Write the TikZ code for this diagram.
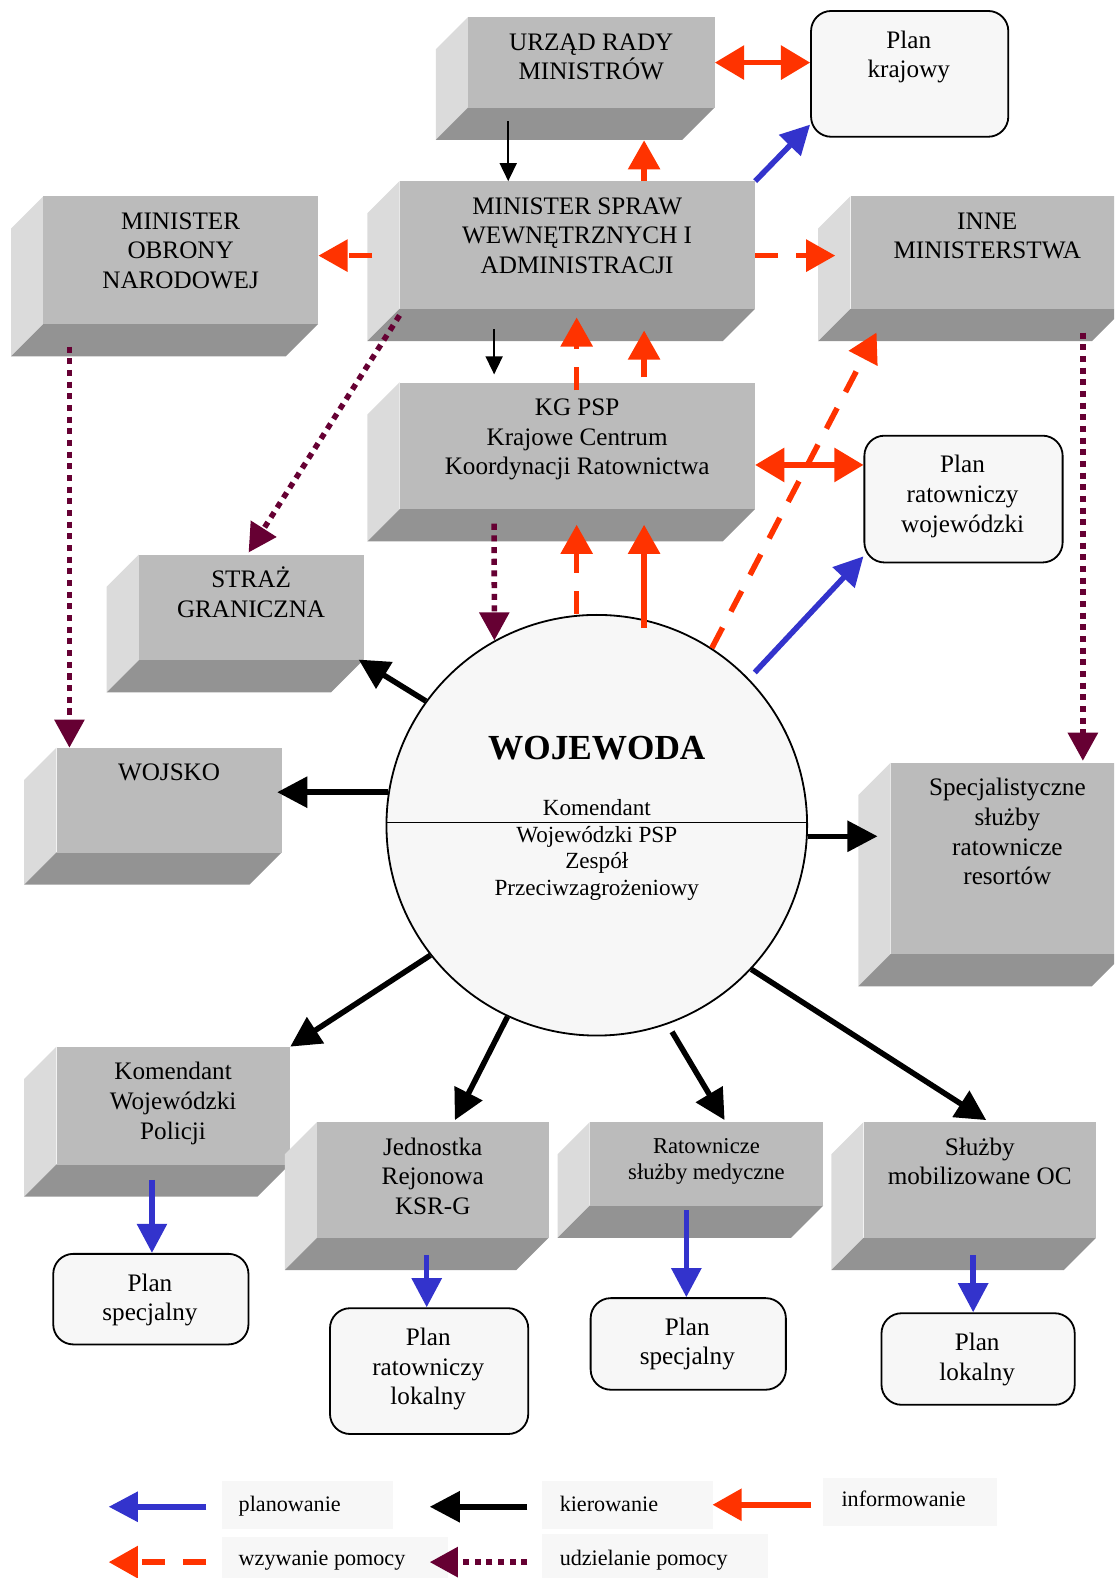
\documentclass[tikz,border=0pt]{standalone}
\usepackage{fontspec}
\setmainfont{Liberation Serif}
\usetikzlibrary{arrows.meta,calc}

\definecolor{frontgray}{HTML}{BBBBBB}
\definecolor{sidegray}{HTML}{DBDBDB}
\definecolor{basegray}{HTML}{939393}
\definecolor{paper}{HTML}{F7F7F7}
\definecolor{infored}{HTML}{FF3300}
\definecolor{planblue}{HTML}{3333CC}
\definecolor{aidmaroon}{HTML}{660033}

\tikzset{
  slabfront/.style={fill=frontgray, draw=none, inner sep=0pt, anchor=north west},
  slabtext/.style={font=\fontsize{25}{29.5}\selectfont, align=center, inner sep=0pt, anchor=north},
  planbox/.style={draw, line width=1.8pt, rounded corners=20pt, fill=paper, inner sep=0pt, anchor=north west},
  circtext/.style={font=\fontsize{23}{26.5}\selectfont, align=center, inner sep=0pt, anchor=north},
  legbox/.style={fill=paper, inner sep=0pt, anchor=north west},
  legtext/.style={font=\fontsize{22}{26}\selectfont, inner sep=0pt, anchor=base west},
  planarrow/.style={draw=planblue, line width=5.5pt, arrows={-Triangle[length=29pt,width=29pt]}},
  leadarrow/.style={draw=black, line width=5.5pt, arrows={-Triangle[length=30pt,width=30pt]}},
  thinlead/.style={draw=black, line width=1.6pt, arrows={-Triangle[length=18pt,width=17pt]}},
  infoarrow/.style={draw=infored, line width=5.5pt, arrows={-Triangle[length=29pt,width=31pt]}},
  infoboth/.style={draw=infored, line width=5.5pt, arrows={Triangle[length=29pt,width=33pt]-Triangle[length=29pt,width=33pt]}},
  callarrow/.style={draw=infored, line width=5.5pt, dash pattern=on 23pt off 18pt, arrows={-Triangle[length=29pt,width=31pt]}},
  aidarrow/.style={draw=aidmaroon, line width=5.5pt, dash pattern=on 6pt off 5.6pt, arrows={-Triangle[length=28pt,width=29pt]}},
}

% a grey block: front face plus a lighter left side and a darker base
% [#1] label options, #2 name, #3,#4 front top-left, #5,#6 front bottom-right, #7 label
\newcommand\slab[7][]{%
  \fill[sidegray] (#3,#4) -- ++(-32,32) -- (#3-32,#6+32) -- (#3,#6) -- cycle;
  \fill[basegray] (#3,#6) -- (#5,#6) -- (#5-32,#6+32) -- (#3-32,#6+32) -- cycle;
  \node[slabfront, minimum width={#5-#3}, minimum height={#6-#4}] (#2) at (#3,#4) {};
  \node[slabtext,#1] (#2-label) at ({(#3+#5)/2},#4+12) {\vphantom{Ż}#7};
}
% a rounded plan box: #1 name, #2,#3 top-left, #4,#5 bottom-right, #6 label
\newcommand\planrect[6]{%
  \node[planbox, minimum width={#4-#2}, minimum height={#5-#3}] (#1) at (#2,#3) {};
  \node[slabtext] (#1-label) at ({(#2+#4)/2},#3+17) {\vphantom{Ż}#6};
}

\begin{document}
\begin{tikzpicture}[x=1pt,y=-1pt]
\useasboundingbox (0,0) rectangle (1107,1568);
\clip (0,0) rectangle (1107,1568);

% ministries and services
\slab{urzad}{465}{17}{710}{107}{URZĄD RADY\\MINISTRÓW}
\slab{mswia}{397}{180}{750}{307}{MINISTER SPRAW\\WEWNĘTRZNYCH I\\ADMINISTRACJI}
\slab{mon}{43}{195}{316}{322}{MINISTER\\OBRONY\\NARODOWEJ}
\slab{inne}{845}{195}{1117}{307}{INNE\\MINISTERSTWA}
\slab{kg}{397}{380}{750}{506}{KG PSP\\Krajowe Centrum\\Koordynacji Ratownictwa}
\slab{straz}{138}{551}{361}{656}{STRAŻ\\GRANICZNA}
\slab{wojsko}{56}{743}{280}{847}{WOJSKO}
\slab{spec}{885}{758}{1117}{948}{Specjalistyczne\\służby\\ratownicze\\resortów}
\slab{kwp}{56}{1040}{288}{1157}{Komendant\\Wojewódzki\\Policji}
\slab{jr}{315}{1115}{545}{1230}{Jednostka\\Rejonowa\\KSR-G}
\slab[font=\fontsize{22.5}{26}\selectfont]{rsm}{586}{1115}{818}{1198}{Ratownicze\\służby medyczne}
\slab{oc}{858}{1115}{1089}{1230}{Służby\\mobilizowane OC}

% plans
\planrect{pkraj}{805}{10}{1001}{135}{Plan\\krajowy}
\planrect{pwoj}{858}{432}{1055}{558}{Plan\\ratowniczy\\wojewódzki}
\planrect{pspecA}{52}{1245}{246}{1335}{Plan\\specjalny}
\planrect{prl}{327}{1299}{524}{1424}{Plan\\ratowniczy\\lokalny}
\planrect{pspecB}{586}{1289}{780}{1380}{Plan\\specjalny}
\planrect{plok}{875}{1304}{1067}{1395}{Plan\\lokalny}

% the voivode
\node[circle, draw, line width=1.8pt, fill=paper, minimum size=418pt, inner sep=0pt] (woj) at (593,820) {};
\draw[line width=1.4pt] ($(woj.west)+(0,-3)$) -- ($(woj.east)+(0,-3)$);
\node[font=\bfseries\fontsize{35}{40}\selectfont, inner sep=0pt, anchor=base] (woj-title) at (593,755) {WOJEWODA};
\node[circtext] (woj-body) at (593,791) {\vphantom{Ż}Komendant\\Wojewódzki PSP\\Zespół\\Przeciwzagrożeniowy};

% top level links
\draw[infoboth] (urzad.east) -- (urzad.east -| pkraj.west);
\draw[planarrow] (mswia.north east) -- ($(pkraj.south west)+(0,-13)$);
\draw[thinlead] ($(urzad.south -| 505,0)+(0,13)$) -- (mswia.north -| 505,0);
\draw[infoarrow] (mswia.north -| 640,0) -- ($(urzad.south -| 640,0)+(0,32)$);
\draw[callarrow] ($(mswia.west |- 0,254)+(-27,0)$) -- (mon.east |- 0,254);
\draw[callarrow] (mswia.east |- 0,254) -- ($(inne.west |- 0,254)+(-15,0)$);
\draw[thinlead] ($(mswia.south -| 491,0)+(0,20)$) -- ($(kg.north -| 491,0)+(0,-8)$);
\draw[callarrow] ($(kg.north -| 573,0)+(0,8)$) -- ($(mswia.south -| 573,0)+(0,8)$);
\draw[infoarrow] ($(kg.north -| 640,0)+(0,-5)$) -- ($(mswia.south -| 640,0)+(0,21)$);
\draw[aidarrow] ($(mswia.south west)+(0,6)$) -- ($(straz.north -| 247,0)+(0,-2)$);
\draw[aidarrow] ($(mon.south -| 69,0)+(0,22)$) -- (wojsko.north -| 69,0);
\draw[aidarrow] ($(inne.south -| 1076,0)+(0,23)$) -- ($(spec.north -| 1076,0)+(0,-2)$);
\draw[infoboth] (kg.east |- 0,462) -- (pwoj.west |- 0,462);

% links of the voivode
\draw[callarrow] (woj.north -| 573,0) -- ($(kg.south -| 573,0)+(0,15)$);
\draw[infoarrow] ($(woj.north -| 640,0)+(0,14)$) -- ($(kg.south -| 640,0)+(0,15)$);
\draw[aidarrow] ($(kg.south -| 491,0)+(0,14)$) -- (woj.119);
\draw[callarrow] (woj.57) -- ($(inne.south west)+(26,23)$);
\draw[planarrow] ($(woj.44)+(6,-6)$) -- ($(pwoj.south west)+(0,-7)$);
\draw[leadarrow] (woj.144) -- ($(straz.south east)+(-5,-1)$);
\draw[leadarrow] (woj.171) -- ($(wojsko.east |- woj.171)+(-5,0)$);
\draw[leadarrow] (woj.-3) -- ($(spec.west |- woj.-3)+(-13,0)$);
\draw[leadarrow] (woj.218) -- (kwp.north east);
\draw[leadarrow] (woj.245) -- ($(jr.north -| 452,0)+(0,-2)$);
\draw[leadarrow] ($(woj.290)+(3,8)$) -- ($(rsm.north -| 720,0)+(0,-2)$);
\draw[leadarrow] (woj.317) -- ($(oc.north -| 980,0)+(0,-2)$);

% local plans
\draw[planarrow] ($(kwp.south -| 151,0)+(0,15)$) -- (pspecA.north -| 151,0);
\draw[planarrow] ($(jr.south -| 424,0)+(0,17)$) -- (prl.north -| 424,0);
\draw[planarrow] ($(rsm.south -| 682,0)+(0,4)$) -- (pspecB.north -| 682,0);
\draw[planarrow] ($(oc.south -| 967,0)+(0,17)$) -- (plok.north -| 967,0);

% legend
\node[legbox, minimum width=170pt, minimum height=48pt] (lplan) at (220,1471) {};
\node[legtext] (lplan-t) at (237,1502) {planowanie};
\node[legbox, minimum width=170pt, minimum height=48pt] (lkier) at (538,1471) {};
\node[legtext] (lkier-t) at (556,1502) {kierowanie};
\node[legbox, minimum width=172pt, minimum height=48pt] (linfo) at (818,1468) {};
\node[legtext] (linfo-t) at (836,1497) {informowanie};
\node[legbox, minimum width=225pt, minimum height=45pt] (lcall) at (220,1527) {};
\node[legtext] (lcall-t) at (237,1556) {wzywanie pomocy};
\node[legbox, minimum width=225pt, minimum height=48pt] (laid) at (538,1524) {};
\node[legtext] (laid-t) at (556,1556) {udzielanie pomocy};

\coordinate (lplan-a) at ($(lplan.west)+(-15,2)$);
\coordinate (lplan-b) at ($(lplan.west)+(-112,2)$);
\coordinate (lkier-a) at ($(lkier.west)+(-14,2)$);
\coordinate (lkier-b) at ($(lkier.west)+(-111,2)$);
\coordinate (linfo-a) at ($(linfo.west)+(-12,3)$);
\coordinate (linfo-b) at ($(linfo.west)+(-110,3)$);
\coordinate (lcall-a) at ($(lcall.west)+(-15,2.5)$);
\coordinate (lcall-b) at ($(lcall.west)+(-112,2.5)$);
\coordinate (laid-a) at ($(laid.west)+(-14,4)$);
\coordinate (laid-b) at ($(laid.west)+(-111,4)$);
\draw[planarrow] (lplan-a) -- (lplan-b);
\draw[leadarrow] (lkier-a) -- (lkier-b);
\draw[infoarrow] (linfo-a) -- (linfo-b);
\draw[callarrow] (lcall-a) -- (lcall-b);
\draw[aidarrow] (laid-a) -- (laid-b);
\end{tikzpicture}
\end{document}
